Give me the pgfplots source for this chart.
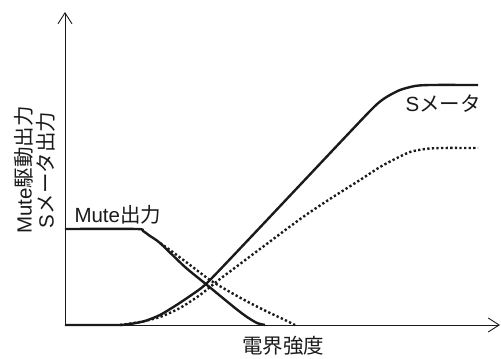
\documentclass[border=0pt]{standalone}
\usepackage{pgfplots}
\pgfplotsset{compat=1.18}
\usetikzlibrary{arrows.meta}
\usepackage{fontspec}
\setmainfont{Liberation Sans}
\newfontfamily\cjk{Noto Sans CJK JP}
\definecolor{ink}{HTML}{1A1A1A}
\begin{document}
\begin{tikzpicture}
\begin{axis}[
  scale only axis, width=435bp, height=313bp,
  xmin=0, xmax=435, ymin=0, ymax=313,
  axis lines=left,
  axis line style={draw=ink, line width=0.9bp, -{Straight Barb[length=11bp,width=14bp,line width=0.9bp]}},
  xtick=\empty, ytick=\empty,
  clip=false,
  font=\fontsize{20.5bp}{24bp}\selectfont,
]
% Mute solid
\addplot[ink, line width=2.4bp, smooth, tension=0.4] coordinates {
(0,96) (72,96) (78,94) (85,89) (95,82) (120,58) (142,40) (170,17) (182,8) (192,2) (200,0)};
% Mute dotted
\addplot[ink, line width=2.4bp, dash pattern=on 2.3bp off 2.3bp, smooth, tension=0.5] coordinates {
(95,82) (105,75) (125,60) (145,45) (165,33) (185,22) (205,12) (220,5) (230,0)};
% S meter solid
\addplot[ink, line width=2.4bp, smooth, tension=0.4] coordinates {
(0,0) (53,0) (65,1) (80,4) (95,10) (110,19) (125,29) (142,42) (185,87) (235,140) (305,214) (320,227) (335,235) (350,239) (365,240) (413,240)};
% S meter dotted
\addplot[ink, line width=2.4bp, dash pattern=on 2.3bp off 2.3bp, smooth, tension=0.4] coordinates {
(55,0) (75,3) (95,8) (115,17) (135,30) (155,46) (195,76) (238,108) (268,128) (295,145) (315,158) (330,166) (345,173) (360,176) (375,177) (413,177)};
\node[anchor=base west, text=ink] at (axis cs:6,102) {Mute{\cjk 出力}};
\node[anchor=base west, text=ink] at (axis cs:337,213) {S{\cjk メータ}};
\node[anchor=center, text=ink] at (axis cs:218,-21) {\cjk 電界強度};
\node[anchor=center, rotate=90, text=ink] at (axis cs:-41,155) {Mute{\cjk 駆動出力}};
\node[anchor=center, rotate=90, text=ink] at (axis cs:-19,155) {S{\cjk メータ出力}};
\path (axis cs:-65,-31) rectangle (axis cs:436,325);
\end{axis}
\end{tikzpicture}
\end{document}
